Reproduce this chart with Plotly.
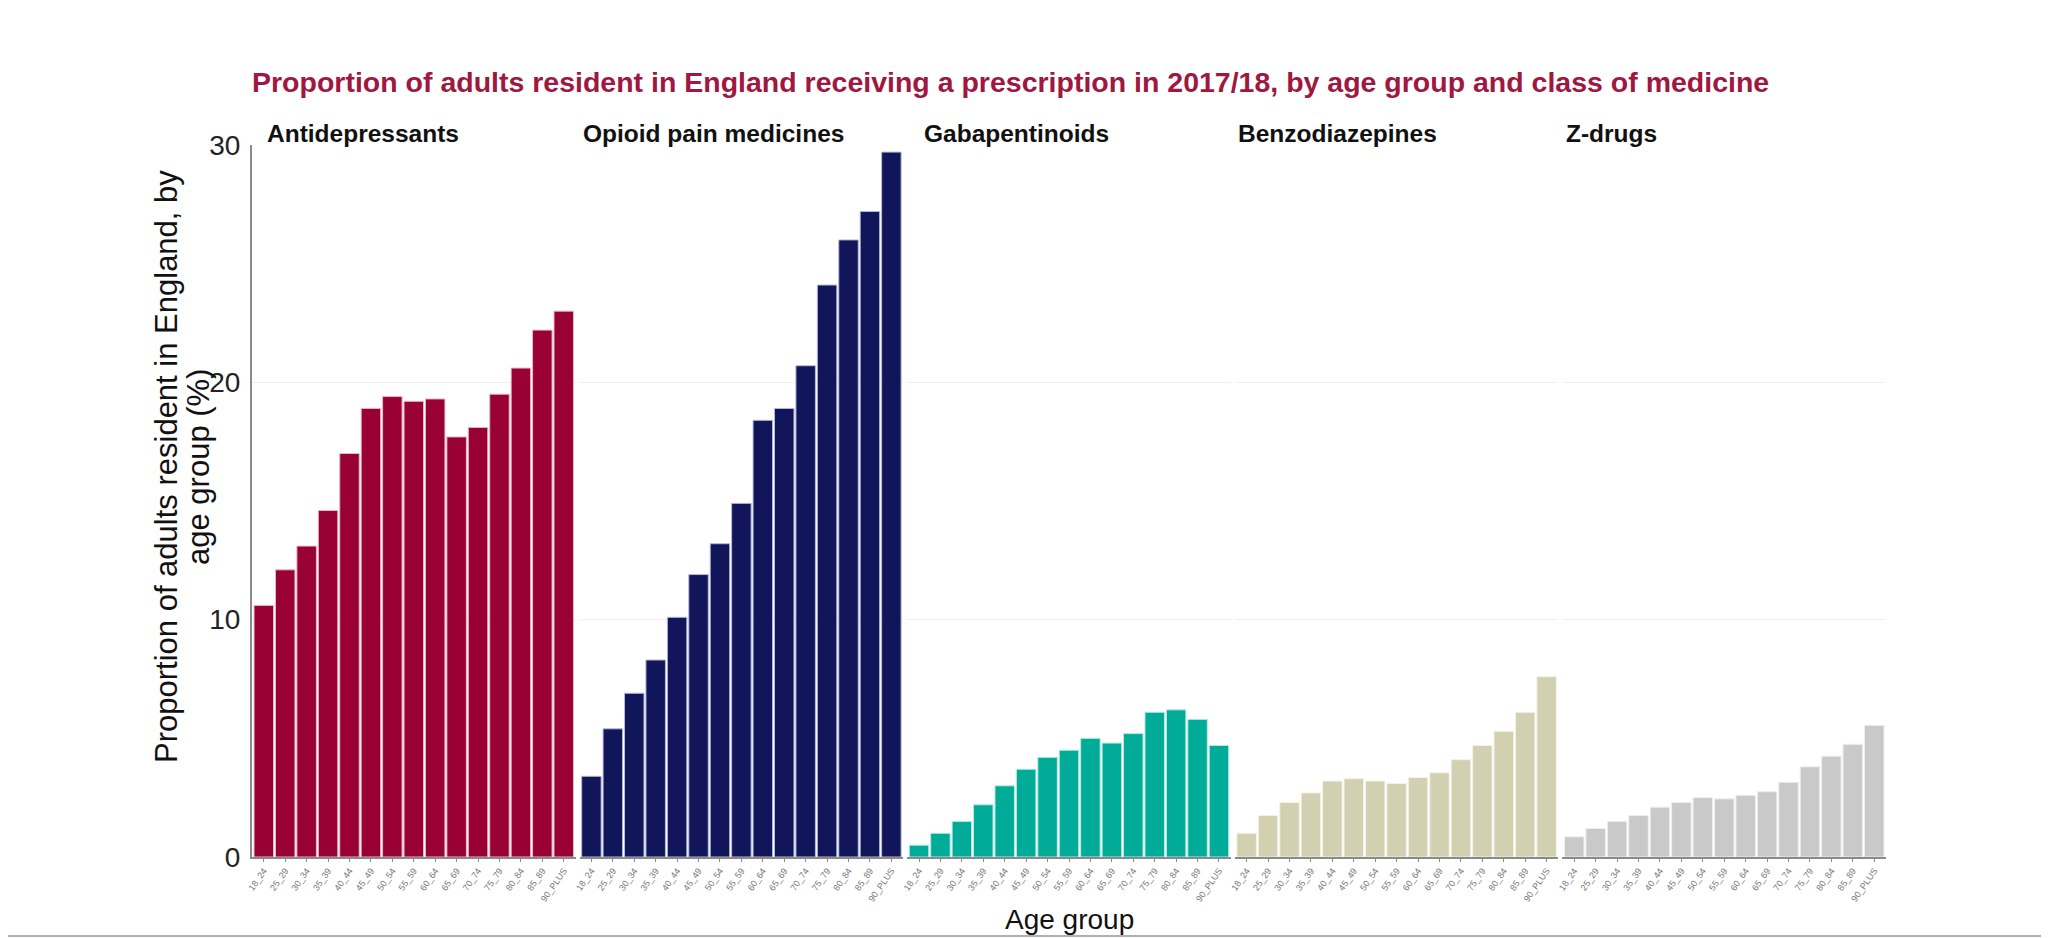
import plotly.graph_objects as go
from plotly.subplots import make_subplots

age_groups = ["18_24", "25_29", "30_34", "35_39", "40_44", "45_49", "50_54", "55_59",
              "60_64", "65_69", "70_74", "75_79", "80_84", "85_89", "90_PLUS"]

medicine_classes = ["Antidepressants", "Opioid pain medicines", "Gabapentinoids",
                    "Benzodiazepines", "Z-drugs"]

antidepressants = [10.6, 12.1, 13.1, 14.6, 17.0, 18.9, 19.4, 19.2, 19.3, 17.7, 18.1, 19.5, 20.6, 22.2, 23.0]
opioids = [3.4, 5.4, 6.9, 8.3, 10.1, 11.9, 13.2, 14.9, 18.4, 18.9, 20.7, 24.1, 26.0, 27.2, 29.7]
gabapentinoids = [0.5, 1.0, 1.5, 2.2, 3.0, 3.7, 4.2, 4.5, 5.0, 4.8, 5.2, 6.1, 6.2, 5.8, 4.7]
benzodiazepines = [1.0, 1.75, 2.3, 2.7, 3.2, 3.3, 3.2, 3.1, 3.35, 3.55, 4.1, 4.7, 5.3, 6.1, 7.6]
z_drugs = [0.85, 1.2, 1.5, 1.75, 2.1, 2.3, 2.5, 2.45, 2.6, 2.75, 3.15, 3.8, 4.25, 4.75, 5.55]

series = [antidepressants, opioids, gabapentinoids, benzodiazepines, z_drugs]
colors = ["#990033", "#11165a", "#00ab98", "#d2d0b1", "#c9c9c9"]
outline = ["#e8b8c8", "#b8bad8", "#b8ebe4", "#f4f3ea", "#eeeeee"]

OFF = 8  # page body margin
W, H = 2049 - OFF, 938 - OFF
L, T = 252 - OFF, 145 - OFF
R = W - (1886 - OFF)
B = H - (857 - OFF)
PW = W - L - R
PH = H - T - B


def px_x(sx):
    return (sx - OFF - L) / PW


def px_y(sy):
    return (H - B - (sy - OFF)) / PH


fig = make_subplots(rows=1, cols=5, shared_yaxes=True, horizontal_spacing=0.0025)

for i, (vals, col) in enumerate(zip(series, colors)):
    fig.add_trace(go.Bar(x=age_groups, y=vals, marker=dict(color=col, line=dict(color=outline[i], width=1)),
                         showlegend=False, name=medicine_classes[i]), row=1, col=i + 1)
    fig.update_xaxes(row=1, col=i + 1, showline=True, linecolor="#8a8a8a", linewidth=2,
                     ticks="outside", ticklen=3, tickcolor="#8a8a8a", tickangle=-55,
                     tickfont=dict(size=9, color="#777777"), showgrid=False,
                     range=[-0.55, 14.55])
    fig.update_yaxes(row=1, col=i + 1, range=[0, 30], showgrid=True, gridcolor="#f1f1e6",
                     gridwidth=1, zeroline=False, tickvals=[0, 10, 20, 30])

fig.update_yaxes(row=1, col=1, showline=True, linecolor="#8a8a8a", linewidth=2,
                 tickfont=dict(size=28, color="#222222"), ticks="", ticklabelstandoff=4)

fig.update_layout(bargap=0.09)

# panel headers
header_px = [265, 581, 922, 1236, 1564]
for name, sx in zip(medicine_classes, header_px):
    fig.add_annotation(text="<b>" + name + "</b>", xref="paper", yref="paper",
                       x=px_x(sx), y=px_y(133), xanchor="left", yanchor="middle",
                       showarrow=False, font=dict(size=24.5, color="#111111"))

# y-axis title (two lines, tight spacing)
ytitle_lines = ["Proportion of adults resident in England, by", "age group (%)"]
for line, sx in zip(ytitle_lines, [166, 198]):
    fig.add_annotation(text=line, xref="paper", yref="paper", x=px_x(sx), y=px_y(467),
                       xanchor="center", yanchor="middle", textangle=-90, showarrow=False,
                       font=dict(size=31, color="#111111"))

# x-axis title
fig.add_annotation(text="Age group", xref="paper", yref="paper", x=px_x(1069),
                   y=px_y(919), xanchor="center", yanchor="middle",
                   showarrow=False, font=dict(size=28, color="#111111"))

# bottom border line of the page
fig.add_shape(type="line", xref="paper", yref="paper", x0=px_x(0), x1=px_x(2049),
              y0=px_y(936), y1=px_y(936), line=dict(color="#b0b0b0", width=2))
# small scroll marker at right edge
fig.add_shape(type="rect", xref="paper", yref="paper", x0=px_x(2043), x1=px_x(2046),
              y0=px_y(288), y1=px_y(268), line=dict(width=0), fillcolor="#9a9a9a")

fig.update_layout(
    width=W, height=H,
    margin=dict(l=L, r=R, t=T, b=B, autoexpand=False),
    paper_bgcolor="white", plot_bgcolor="white",
    font=dict(family="Arial, Liberation Sans, sans-serif"),
    title=dict(text="<b>Proportion of adults resident in England receiving a prescription in 2017/18, by age group and class of medicine</b>",
               x=L / W, xanchor="left", y=1 - (82 - OFF) / H, yanchor="middle", yref="container",
               font=dict(size=28.5, color="#a0173f")),
)

fig.write_html("out.html")
